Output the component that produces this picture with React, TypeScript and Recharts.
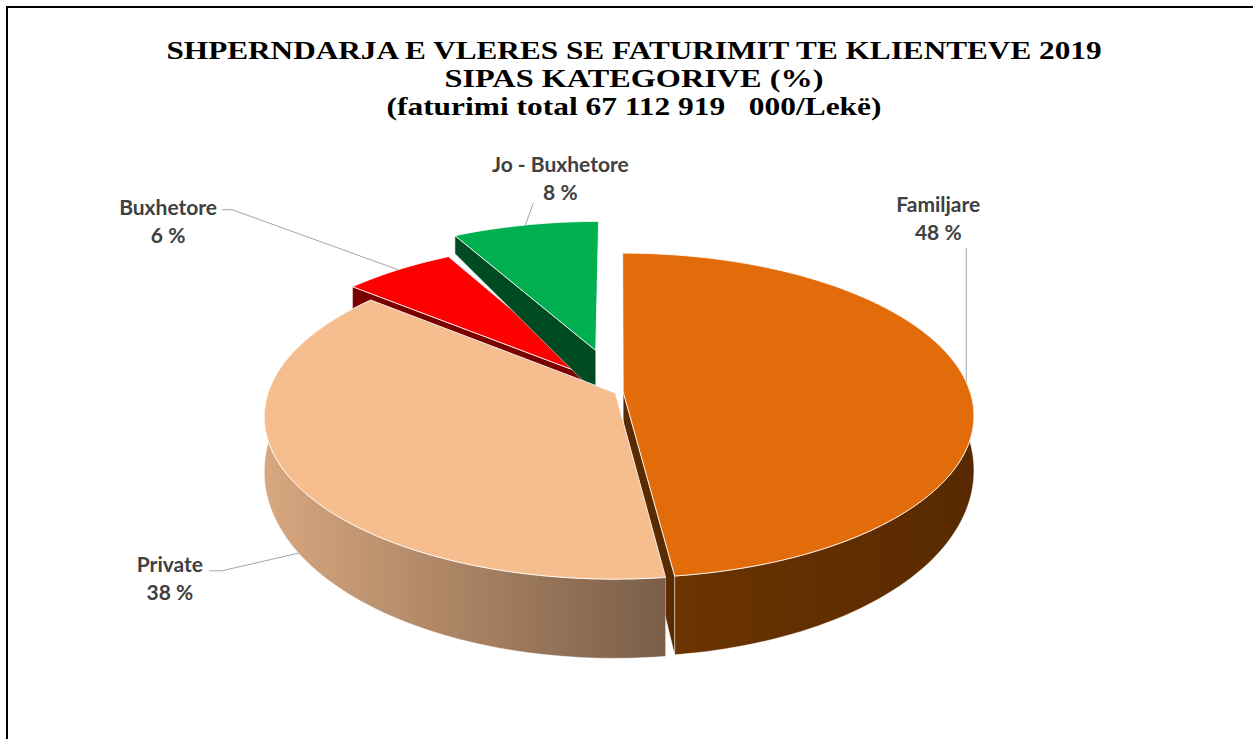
import React from "react";
import { PieChart, Pie, Cell } from "recharts";

// chart values (Excel order: clockwise from 12 o'clock)
const categories = ["Familjare", "Private", "Buxhetore", "Jo - Buxhetore"];
const shares = [48, 38, 6, 8];
const titleLines = [
  "SHPERNDARJA E VLERES SE FATURIMIT TE KLIENTEVE 2019",
  "SIPAS KATEGORIVE (%)",
  "(faturimi total 67 112 919   000/Lekë)",
];

// styles
const TITLE_WIDTHS = [935, 379, 495];
const COLORS: Record<string, { top: string; side: [string, string]; edge: string }> = {
  Familjare: { top: "#E26B0A", side: ["#6b3400", "#582900"], edge: "#5a2a00" },
  Private: { top: "#F6BE8E", side: ["#d8a77f", "#7a5e48"], edge: "#b98a66" },
  Buxhetore: { top: "#FF0000", side: ["#7f0000", "#7f0000"], edge: "#7a0000" },
  "Jo - Buxhetore": { top: "#00B050", side: ["#004d23", "#004d23"], edge: "#004b22" },
};
const EXPLODE: Record<string, number> = {
  Familjare: 0.012,
  Private: 0.012,
  Buxhetore: 0.124,
  "Jo - Buxhetore": 0.28,
};
// label placement relative to the rim anchor of each slice
const LABELS: Record<string, { h: number; leader: number[][]; dx: number; dy: number }> = {
  Familjare: { h: 0, leader: [[0, 0], [0, -134]], dx: -28, dy: -170 },
  Private: { h: 1, leader: [[12, 13], [-66, 31], [-79, 31]], dx: -118, dy: 32 },
  Buxhetore: { h: 0, leader: [[0, 0], [-166, -60], [-176, -60]], dx: -230, dy: -55 },
  "Jo - Buxhetore": { h: 0, leader: [[0, 0], [8, -22]], dx: 35, dy: -53 },
};

// 3d look
const K = 0.145; // perspective
const TILT = 0.458;
const DEPTH0 = 0.1458; // wall height at the middle
const DEPTH1 = 0.0818; // extra height towards the front
const RAD = Math.PI / 180;

const total = shares.reduce((a, b) => a + b, 0);
// draw back slices first so the front ones cover their walls
const drawOrder = [2, 3, 0, 1];
const pieData = drawOrder.map((i) => ({ name: categories[i], value: shares[i] }));
const START = 90 + (360 * (shares[2] + shares[3])) / total;

function proj(cx: number, cy: number, R: number, u: number, v: number, h: number) {
  const s = 1 / (1 - K * v);
  return [cx + R * u * s, cy + R * TILT * v * s + R * (DEPTH0 + DEPTH1 * v) * h];
}

function pointFn(cx: number, cy: number, R: number, mid: number, e: number) {
  const eu = e * Math.cos(mid * RAD);
  const ev = -e * Math.sin(mid * RAD);
  return (deg: number, r: number, h: number) =>
    proj(cx, cy, R, eu + r * Math.cos(deg * RAD), ev - r * Math.sin(deg * RAD), h);
}

const toPath = (pts: number[][]) =>
  "M" + pts.map((p) => p[0].toFixed(2) + "," + p[1].toFixed(2)).join("L") + "Z";

function Slice3D(props: any) {
  const { cx, cy, outerRadius, startAngle, endAngle, payload } = props;
  const name = payload?.name ?? props.name;
  const col = COLORS[name];
  const mid = props.midAngle ?? (startAngle + endAngle) / 2;
  const pt = pointFn(cx, cy, outerRadius, mid, EXPLODE[name] ?? 0);
  const arc = (a: number, b: number, h: number) => {
    const n = Math.max(2, Math.ceil(Math.abs(b - a) / 1.5));
    const out: number[][] = [];
    for (let i = 0; i <= n; i++) out.push(pt(a + ((b - a) * i) / n, 1, h));
    return out;
  };
  const lo = Math.min(startAngle, endAngle);
  const hi = Math.max(startAngle, endAngle);
  const walls: string[] = [];
  for (let k = -2; k <= 2; k++) {
    const a = Math.max(lo, -180 + 360 * k);
    const b = Math.min(hi, 360 * k);
    if (a < b) walls.push(toPath([...arc(a, b, 0), ...arc(a, b, 1).reverse()]));
  }
  const radial = (deg: number) => toPath([pt(0, 0, 0), pt(deg, 1, 0), pt(deg, 1, 1), pt(0, 0, 1)]);
  const gid = "side-" + name.replace(/[^a-z]/gi, "");
  return (
    <g>
      <defs>
        <linearGradient id={gid} x1="0" y1="0" x2="1" y2="0">
          <stop offset="0%" stopColor={col.side[0]} />
          <stop offset="100%" stopColor={col.side[1]} />
        </linearGradient>
      </defs>
      {walls.map((d, i) => (
        <path key={i} d={d} fill={`url(#${gid})`} stroke="#ffffff" strokeOpacity={0.5} strokeWidth={0.8} />
      ))}
      {Math.cos(startAngle * RAD) < -1e-6 && (
        <path d={radial(startAngle)} fill={col.edge} stroke="#ffffff" strokeOpacity={0.6} strokeWidth={0.8} />
      )}
      {Math.cos(endAngle * RAD) > 1e-6 && (
        <path d={radial(endAngle)} fill={col.edge} stroke="#ffffff" strokeOpacity={0.6} strokeWidth={0.8} />
      )}
      <path
        d={toPath([pt(0, 0, 0), ...arc(startAngle, endAngle, 0)])}
        fill={col.top}
        stroke="#ffffff"
        strokeOpacity={0.85}
        strokeWidth={1}
        strokeLinejoin="round"
      />
    </g>
  );
}

function renderLabel(props: any) {
  const { cx, cy, outerRadius, midAngle, payload, value } = props;
  const name = payload?.name ?? props.name;
  const cfg = LABELS[name];
  const pt = pointFn(cx, cy, outerRadius, midAngle, EXPLODE[name] ?? 0);
  const [ax, ay] = pt(midAngle, 1, cfg.h);
  const pts = cfg.leader.map(([dx, dy]) => `${ax + dx},${ay + dy}`).join(" ");
  return (
    <g key={"lbl-" + name}>
      <polyline points={pts} fill="none" stroke="#a6a6a6" strokeWidth={1} />
      <text
        x={ax + cfg.dx}
        y={ay + cfg.dy}
        textAnchor="middle"
        fill="#404040"
        fontFamily="Lato, 'Open Sans', sans-serif"
        fontWeight={700}
        fontSize={21}
      >
        <tspan x={ax + cfg.dx}>{name}</tspan>
        <tspan x={ax + cfg.dx} dy={28}>
          {Math.round((value / total) * 100)} %
        </tspan>
      </text>
    </g>
  );
}

export default function App() {
  return (
    <div
      style={{
        position: "absolute",
        left: 0,
        top: 0,
        width: 1253,
        height: 739,
        background: "#ffffff",
        overflow: "hidden",
      }}
    >
      <div
        style={{
          position: "absolute",
          left: 6,
          top: 6,
          width: 1400,
          height: 900,
          borderTop: "2px solid #000",
          borderLeft: "2px solid #000",
        }}
      />
      <svg width={1253} height={140} style={{ position: "absolute", left: 0, top: 0 }}>
        {titleLines.map((t, i) => (
          <text
            key={t}
            x={634}
            y={59 + i * 28}
            textAnchor="middle"
            textLength={TITLE_WIDTHS[i]}
            lengthAdjust="spacingAndGlyphs"
            fontFamily="'Liberation Serif', serif"
            fontWeight={700}
            fontSize={25}
            fill="#000"
            style={{ whiteSpace: "pre" }}
          >
            {t}
          </text>
        ))}
      </svg>
      <div style={{ position: "absolute", left: 0, top: 0 }}>
        <PieChart width={1253} height={739} margin={{ top: 0, right: 0, bottom: 0, left: 0 }}>
          <Pie
            data={pieData}
            dataKey="value"
            nameKey="name"
            cx={619}
            cy={392}
            outerRadius={347}
            startAngle={START}
            endAngle={START - 360}
            stroke="none"
            isAnimationActive={false}
            shape={Slice3D}
            activeShape={Slice3D}
            inactiveShape={Slice3D}
            label={renderLabel}
            labelLine={false}
          >
            {pieData.map((d) => (
              <Cell key={d.name} fill={COLORS[d.name].top} />
            ))}
          </Pie>
        </PieChart>
      </div>
    </div>
  );
}
